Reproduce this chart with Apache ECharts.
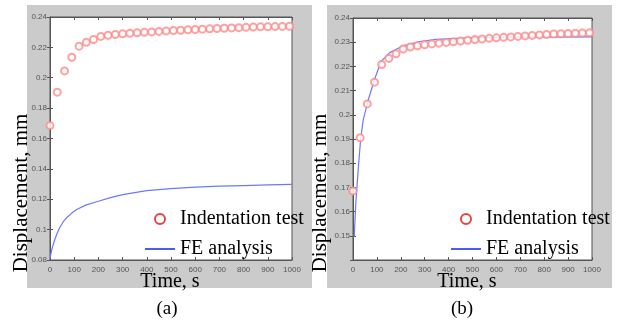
<!DOCTYPE html>
<html>
<head>
<meta charset="utf-8">
<script src="https://cdn.jsdelivr.net/npm/echarts/dist/echarts.min.js"></script>
<style>
  html, body { margin: 0; padding: 0; background: #fff; }
  #chart { width: 620px; height: 325px; }
</style>
</head>
<body>
<div id="chart"></div>
<script>
// indentation test (same measurement in both panels)
const testTime = [0, 30, 60, 90, 120, 150, 180, 210, 240, 270, 300, 330, 360, 390, 420, 450, 480,
  510, 540, 570, 600, 630, 660, 690, 720, 750, 780, 810, 840, 870, 900, 930, 960, 990];
const testDisp = [0.1685, 0.1905, 0.2045, 0.2135, 0.2208, 0.2233, 0.2252, 0.2272, 0.2280, 0.2285,
  0.2289, 0.2293, 0.2296, 0.2299, 0.2302, 0.2305, 0.2308, 0.2311, 0.2313, 0.2316, 0.2318, 0.2320,
  0.2322, 0.2324, 0.2326, 0.2328, 0.2330, 0.2332, 0.2334, 0.2335, 0.2336, 0.2337, 0.2338, 0.2339];

// FE analysis, panel (a)
const feTimeA = [0, 5, 10, 20, 30, 40, 55, 70, 90, 110, 150, 200, 250, 300, 400, 500, 600, 700, 800, 900, 1000];
const feDispA = [0.081, 0.085, 0.0885, 0.0935, 0.0978, 0.1012, 0.1052, 0.108, 0.1109, 0.1132, 0.1163,
  0.1187, 0.1211, 0.123, 0.1257, 0.127, 0.128, 0.1286, 0.129, 0.1294, 0.1298];

// FE analysis, panel (b)
const feTimeB = [5, 12, 22, 32, 43, 64, 90, 118, 154, 210, 279, 348, 514, 700, 1000];
const feDispB = [0.1495, 0.1638, 0.1776, 0.19, 0.198, 0.2062, 0.2146, 0.2222, 0.2257, 0.2285, 0.2303,
  0.2312, 0.2319, 0.2321, 0.2322];

const seriesNames = ['Indentation test', 'FE analysis'];
const panelLabels = ['(a)', '(b)'];
const xAxisName = 'Time, s';
const yAxisName = 'Displacement, mm';

const pairs = (xs, ys) => xs.map((x, i) => [x, ys[i]]);

const SERIF = 'Liberation Serif';
const tickLabel = { fontSize: 8, color: '#555', fontFamily: 'Liberation Sans', formatter: v => String(v) };

const grids = [
  { left: 50, top: 17, width: 242, height: 243 },
  { left: 353, top: 18, width: 239, height: 242 }
];
const yRanges = [
  { min: 0.08, max: 0.24, interval: 0.02 },
  { min: 0.14, max: 0.24, interval: 0.01 }
];

const chart = echarts.init(document.getElementById('chart'));

const xAxes = [];
const yAxes = [];
grids.forEach((g, i) => {
  // bottom + mirrored top axis
  xAxes.push({
    gridIndex: i, type: 'value', min: 0, max: 1000, interval: 100, position: 'bottom',
    axisLine: { lineStyle: { color: '#555' } },
    axisTick: { inside: true, length: 3, lineStyle: { color: '#555' } },
    axisLabel: { ...tickLabel, margin: 6 },
    splitLine: { show: false }
  });
  xAxes.push({
    gridIndex: i, type: 'value', min: 0, max: 1000, interval: 100, position: 'top',
    axisLine: { lineStyle: { color: '#555' } },
    axisTick: { inside: true, length: 3, lineStyle: { color: '#555' } },
    axisLabel: { show: false },
    splitLine: { show: false }
  });
  yAxes.push({
    gridIndex: i, type: 'value', ...yRanges[i], position: 'left',
    axisLine: { show: true, lineStyle: { color: '#555' } },
    axisTick: { show: true, inside: true, length: 3, lineStyle: { color: '#555' } },
    axisLabel: { ...tickLabel, margin: 3, showMinLabel: i === 0 },
    splitLine: { show: false }
  });
  yAxes.push({
    gridIndex: i, type: 'value', ...yRanges[i], position: 'right',
    axisLine: { show: true, lineStyle: { color: '#555' } },
    axisTick: { show: true, inside: true, length: 3, lineStyle: { color: '#555' } },
    axisLabel: { show: false },
    splitLine: { show: false }
  });
});

const feData = [pairs(feTimeA, feDispA), pairs(feTimeB, feDispB)];
const testData = pairs(testTime, testDisp);

const series = [];
grids.forEach((g, i) => {
  series.push({
    name: seriesNames[1], type: 'line', xAxisIndex: i * 2, yAxisIndex: i * 2,
    data: feData[i], showSymbol: false, symbol: 'none',
    lineStyle: { color: '#6b78ff', width: 1.2 }, itemStyle: { color: '#6b78ff' },
    animation: false, z: 2
  });
  series.push({
    name: seriesNames[0], type: 'scatter', xAxisIndex: i * 2, yAxisIndex: i * 2,
    data: testData, symbol: 'emptyCircle', symbolSize: 7,
    itemStyle: { color: '#ff8a8a', borderWidth: 1 },
    animation: false, z: 3
  });
});

// legend text goes through a rich style so the serif face sticks
const legendFor = (left) => ({
  left, top: 204, orient: 'vertical', itemWidth: 30, itemHeight: 10, itemGap: 10,
  formatter: name => '{s|' + name + '}',
  textStyle: {
    color: '#000', fontSize: 20, lineHeight: 20,
    rich: { s: { fontFamily: SERIF, fontSize: 20, lineHeight: 20, color: '#000' } }
  },
  selectedMode: false,
  data: [
    { name: seriesNames[0], icon: 'emptyCircle',
      itemStyle: { color: '#e01515', borderColor: '#e01515', borderWidth: 2 } },
    { name: seriesNames[1], icon: 'path://M0,0L30,0L30,1.6L0,1.6Z',
      itemStyle: { color: '#2233ee', borderWidth: 0 } }
  ]
});

// axis titles sit low in the original figure, so they are placed by hand
const label = (text, x, y, size, rotation) => ({
  type: 'text', x, y, rotation: rotation || 0,
  style: { text, font: size + 'px "Liberation Serif"', fill: '#000', align: 'center', verticalAlign: 'middle' }
});

chart.setOption({
  backgroundColor: '#fff',
  animation: false,
  textStyle: { fontFamily: SERIF },
  graphic: [
    { type: 'rect', z: -10, shape: { x: 27, y: 5, width: 285, height: 283 }, style: { fill: '#cbcbcb' } },
    { type: 'rect', z: -10, shape: { x: 327, y: 5, width: 285, height: 283 }, style: { fill: '#cbcbcb' } },
    label(yAxisName, 21, 193, 21, Math.PI / 2),
    label(yAxisName, 320, 193, 21, Math.PI / 2),
    label(xAxisName, 170, 282, 20),
    label(xAxisName, 467, 282, 20),
    label(panelLabels[0], 167, 309, 19),
    label(panelLabels[1], 462, 309, 19)
  ],
  grid: grids.map(g => ({ ...g, show: true, backgroundColor: '#fff', borderColor: '#555', borderWidth: 1 })),
  xAxis: xAxes,
  yAxis: yAxes,
  legend: [legendFor(140), legendFor(446)],
  series
});
</script>
</body>
</html>
